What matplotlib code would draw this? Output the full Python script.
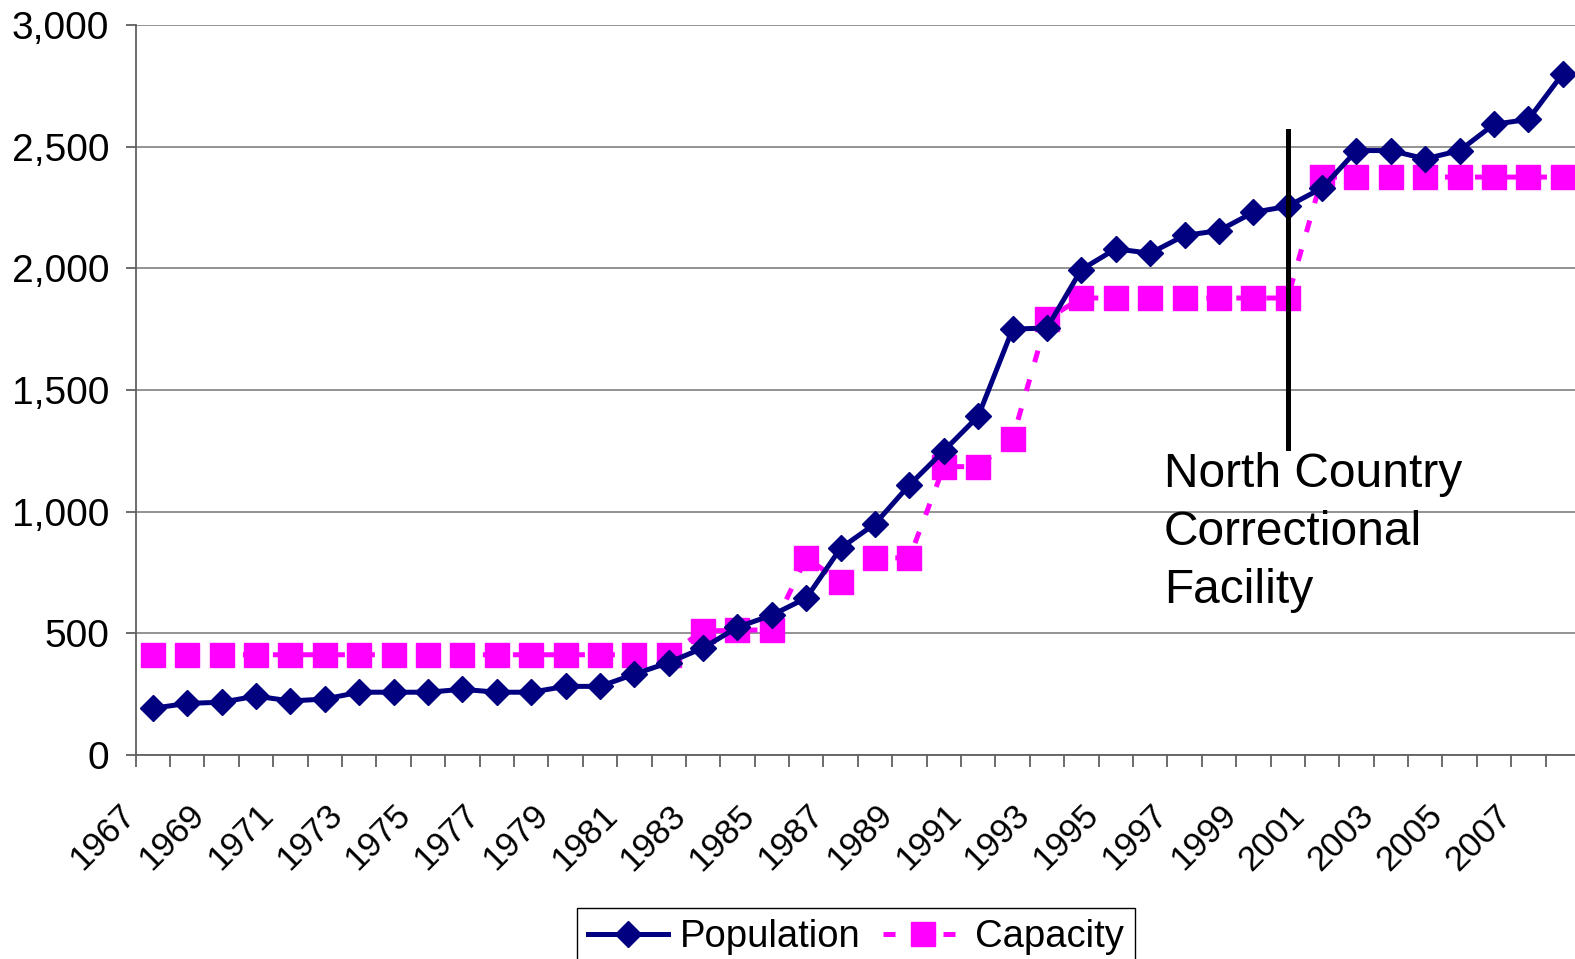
import numpy as np
import matplotlib.pyplot as plt
import matplotlib.transforms as mtransforms
from matplotlib.lines import Line2D
from matplotlib.ticker import FuncFormatter

plt.rcParams['font.family'] = ['Liberation Sans', 'DejaVu Sans']

# data
years = list(range(1967, 2009))
population = [192, 212, 217, 242, 222, 230, 258, 258, 258, 270, 258, 258,
              282, 282, 332, 380, 440, 525, 575, 645, 850, 950, 1110, 1250,
              1392, 1750, 1755, 1995, 2080, 2062, 2135, 2155, 2230, 2255,
              2330, 2484, 2484, 2450, 2484, 2592, 2612, 2800]
capacity = [412] * 16 + [510, 512, 515, 810, 712, 810, 810, 1185, 1185,
                         1300, 1791] + [1878] * 7 + [2375] * 8
marker_year = 2000
note = "North Country\nCorrectional\nFacility"

W, H = 1575, 959
fig = plt.figure(figsize=(W / 100, H / 100), dpi=100)
# plot area runs a little past the right edge, as in the original
ax = fig.add_axes([135.7 / W, 1 - 755 / H, (1580 - 135.7) / W, (755 - 25) / H])

x = np.arange(len(years))
ax.plot(x, capacity, color='#FF00FF', lw=3.6, ls=(0, (2.4, 3.6)),
        marker='s', ms=17, mec='#FF00FF', zorder=3, clip_on=False)
ax.plot(x, population, color='#000080', lw=3.6, marker='D', ms=13,
        mec='#000080', zorder=4, clip_on=False)

# facility opening marker
xi = years.index(marker_year)
ax.plot([xi, xi], [1260, 2565], color='black', lw=3.6, zorder=5)
ax.text(xi - 3.6, 1245, note, fontsize=34.5, va='top', ha='left',
        linespacing=1.37)

ax.set_xlim(-0.5, len(years) - 0.5)
ax.set_ylim(0, 3000)
ax.set_yticks(np.arange(0, 3001, 500))
ax.yaxis.set_major_formatter(FuncFormatter(lambda v, p: f"{int(v):,}"))
ax.grid(axis='y', color='#808080', lw=1.2)
ax.set_axisbelow(True)

ax.set_xticks(x[::2])
ax.set_xticklabels([str(y) for y in years[::2]], rotation=45, ha='right',
                   rotation_mode='anchor')
ax.set_xticks(np.arange(-0.5, len(years), 1), minor=True)
ax.tick_params(axis='x', which='major', length=0, labelsize=25, pad=14)
ax.tick_params(axis='x', which='minor', length=8.5, color='#606060', width=1.3)
ax.tick_params(axis='y', length=7, color='#606060', width=1.3,
               labelsize=28, pad=12)

# shift the year labels like the original's placement
offset = mtransforms.ScaledTranslation(-34 / 100, -24 / 100, fig.dpi_scale_trans)
for lab in ax.get_xticklabels():
    lab.set_transform(lab.get_transform() + offset)

for s in ['top', 'right']:
    ax.spines[s].set_visible(False)
ax.spines['left'].set_color('#606060')
ax.spines['bottom'].set_color('#606060')
ax.spines['left'].set_linewidth(1.3)
ax.spines['bottom'].set_linewidth(1.3)

handles = [
    Line2D([], [], color='#000080', lw=3.6, marker='D', ms=13),
    Line2D([], [], color='#FF00FF', lw=3.6, ls=(0, (2.4, 3.6)),
           marker='s', ms=17),
]
leg = fig.legend(handles, ['Population', 'Capacity'], loc='upper center',
                 bbox_to_anchor=(856 / W, 1 - 908 / H), ncol=2, fontsize=27.5,
                 frameon=True, fancybox=False, framealpha=1,
                 edgecolor='black', handlelength=2.1, numpoints=1,
                 borderpad=0.3, borderaxespad=0, columnspacing=0.6,
                 handletextpad=0.3)
leg.get_frame().set_linewidth(1)

fig.savefig('out.png', dpi=100)
